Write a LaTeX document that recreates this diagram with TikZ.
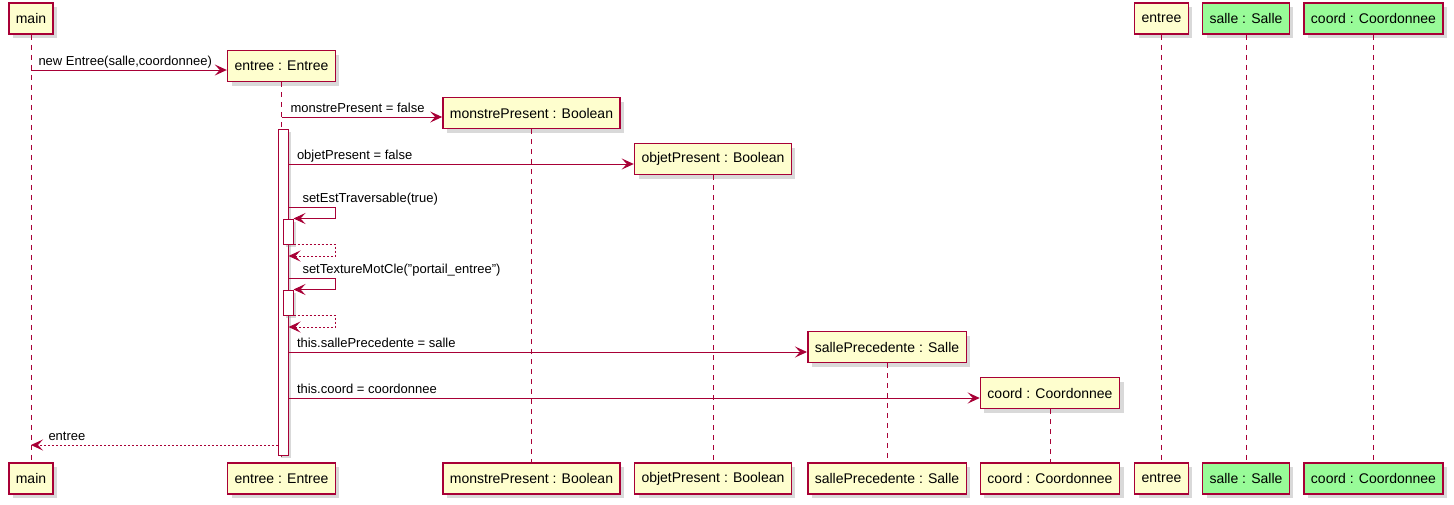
\documentclass[tikz,border=0pt]{standalone}
\usepackage{fontspec}
\setmainfont{Liberation Sans}
\usetikzlibrary{arrows.meta,shadows}
\definecolor{umlred}{HTML}{A80036}
\definecolor{umlcream}{HTML}{FEFECE}
\definecolor{umlgreen}{HTML}{98FB98}

\begin{document}
\begin{tikzpicture}[x=1pt,y=-1pt,
  part/.style={draw=umlred,fill=umlcream,line width=1.5pt,minimum height=31pt,inner xsep=7pt,
    font=\fontsize{14}{16}\selectfont,drop shadow={shadow xshift=4pt,shadow yshift=-4pt,opacity=0.3}},
  lifeline/.style={draw=umlred,line width=0.8pt,dash pattern=on 5pt off 5pt},
  actbar/.style={draw=umlred,fill=white,line width=1pt,minimum width=10pt,inner sep=0pt,
    drop shadow={shadow xshift=3pt,shadow yshift=-3pt,opacity=0.3}},
  msg/.style={draw=umlred,line width=1pt,-{Stealth[length=12pt,width=11pt,inset=5pt]}},
  ret/.style={msg,dash pattern=on 2pt off 2pt},
  lbl/.style={font=\fontsize{13}{15}\selectfont,inner sep=0pt,text depth=3pt,anchor=south west,yshift=1pt}]
\useasboundingbox (0,0) rectangle (1454,504);
%\draw[gray!30] (0,0) grid[step=50] (1454,504);
% participants, top and bottom
\node[part] (main) at (31,18.5) {main};
\node[part] (entreeE) at (281.5,66) {entree : Entree};
\node[part] (monstre) at (531.5,113) {monstrePresent : Boolean};
\node[part] (objet) at (713,159) {objetPresent : Boolean};
\node[part] (salleP) at (887,347) {sallePrecedente : Salle};
\node[part] (coordE) at (1050,393) {coord : Coordonnee};
\node[part] (entree) at (1161.5,18.5) {entree};
\node[part,fill=umlgreen] (salle) at (1246,18.5) {salle : Salle};
\node[part,fill=umlgreen] (coord) at (1373.5,18.5) {coord : Coordonnee};
\node[part] (mainB) at (31,478.5) {main};
\node[part] (entreeEB) at (281.5,478.5) {entree : Entree};
\node[part] (monstreB) at (531.5,478.5) {monstrePresent : Boolean};
\node[part] (objetB) at (713,478.5) {objetPresent : Boolean};
\node[part] (sallePB) at (887,478.5) {sallePrecedente : Salle};
\node[part] (coordEB) at (1050,478.5) {coord : Coordonnee};
\node[part] (entreeB) at (1161.5,478.5) {entree};
\node[part,fill=umlgreen] (salleB) at (1246,478.5) {salle : Salle};
\node[part,fill=umlgreen] (coordB) at (1373.5,478.5) {coord : Coordonnee};
% lifelines
\draw[lifeline] (main) -- (mainB);
\draw[lifeline] (entreeE) -- (entreeEB);
\draw[lifeline] (monstre) -- (monstreB);
\draw[lifeline] (objet) -- (objetB);
\draw[lifeline] (salleP) -- (sallePB);
\draw[lifeline] (coordE) -- (coordEB);
\draw[lifeline] (entree) -- (entreeB);
\draw[lifeline] (salle) -- (salleB);
\draw[lifeline] (coord) -- (coordB);
% activations
\node[actbar,minimum height=326pt] (act) at (283,292) {};
\node[actbar,minimum height=25pt] (act1) at (288,231.5) {};
\node[actbar,minimum height=25pt] (act2) at (288,302.5) {};
% messages
\draw[msg] (main.south |- 0,70) -- (entreeE.west |- 0,70)
  node[lbl,pos=0,xshift=7pt] {new Entree(salle,coordonnee)};
\draw[msg] (entreeE.south |- 0,117) -- (monstre.west |- 0,117)
  node[lbl,pos=0,xshift=8.5pt] {monstrePresent = false};
\draw[msg] (act.east |- 0,164) -- (objet.west |- 0,164)
  node[lbl,pos=0,xshift=8pt] {objetPresent = false};
\draw[msg] (act.east |- 0,207) node[lbl,xshift=13.5pt] {setEstTraversable(true)}
  -- ++(47,0) |- (act1.north east);
\draw[ret] (act1.south east) -- ++(42,0) |- (act.east |- 0,256);
\draw[msg] (act.east |- 0,278) node[lbl,xshift=13.5pt] {setTextureMotCle("portail\_entree")}
  -- ++(47,0) |- (act2.north east);
\draw[ret] (act2.south east) -- ++(42,0) |- (act.east |- 0,327);
\draw[msg] (act.east |- 0,352) -- (salleP.west |- 0,352)
  node[lbl,pos=0,xshift=8pt] {this.sallePrecedente = salle};
\draw[msg] (act.east |- 0,398) -- (coordE.west |- 0,398)
  node[lbl,pos=0,xshift=8pt] {this.coord = coordonnee};
\draw[ret] (act.west |- 0,445) -- (main.south |- 0,445)
  node[lbl,pos=1,xshift=17pt] {entree};
\end{tikzpicture}
\end{document}
